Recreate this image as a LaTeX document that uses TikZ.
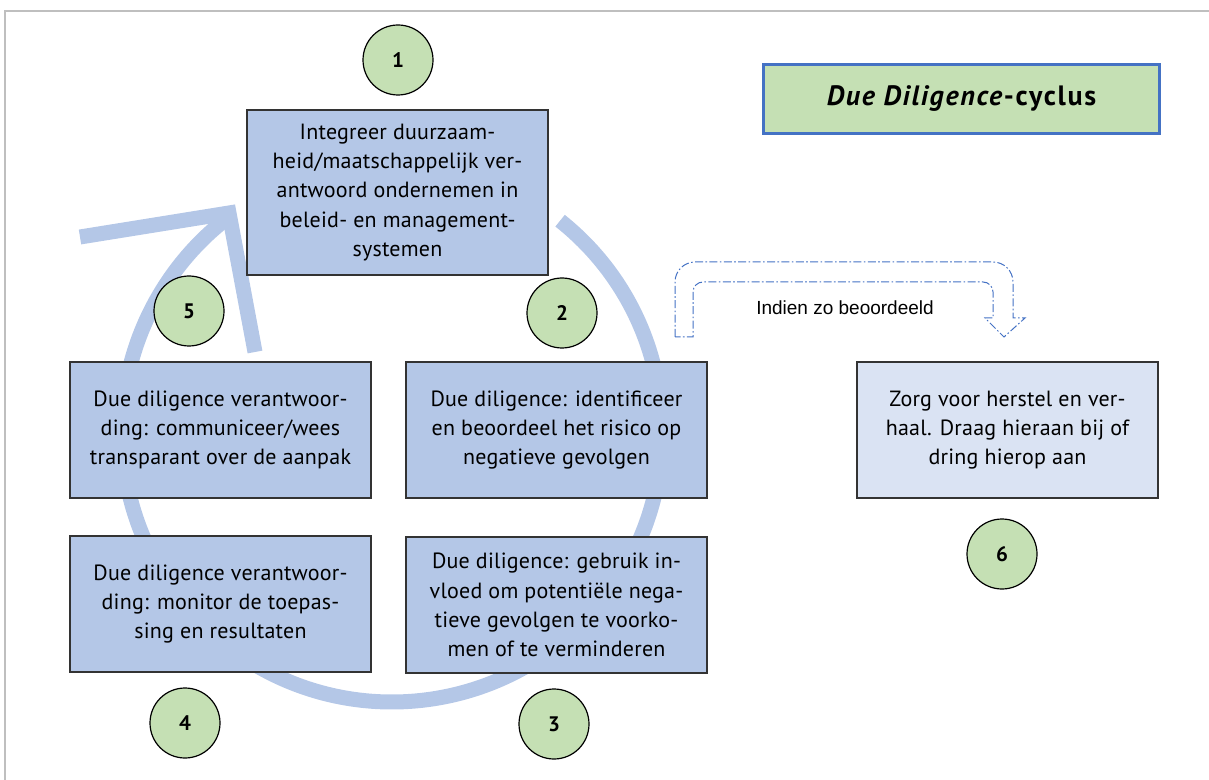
\documentclass[tikz,border=0pt]{standalone}
\usepackage{fontspec}
\setmainfont{PT Sans}
\newfontfamily\boxfont[LetterSpace=1]{PT Sans}
\newfontfamily\titfont[LetterSpace=6]{PT Sans}
\newfontfamily\arialfont{Liberation Sans}
\begin{document}
\begin{tikzpicture}[x=0.5pt,y=-0.5pt,
  box/.style={draw=black!80,line width=0.8pt,fill=b2,minimum width=150.5pt,minimum height=68pt,
    align=center,font=\boxfont\fontsize{11}{14.6}\selectfont,inner sep=2pt},
  nr/.style={circle,draw=black,line width=0.6pt,fill=g1,minimum size=35pt,inner sep=0pt,
    font=\fontsize{10.5}{12}\selectfont\bfseries},
  ring/.style={b2,line width=7.5pt},
  dashline/.style={draw=l1,line width=0.5pt,dash pattern=on 4pt off 1.2pt on 0.8pt off 1.2pt}]
\definecolor{b2}{RGB}{180,199,231}
\definecolor{b3}{RGB}{218,227,243}
\definecolor{g1}{RGB}{197,224,180}
\definecolor{l1}{RGB}{68,114,196}

\useasboundingbox (0,0) rectangle (1209,780);
\draw[black!25,line width=1pt] (5,780) -- (5,11) -- (1209,11);

% cycle arrow behind the boxes
\draw[ring] (392,432) ++(51.5:135pt) arc[start angle=51.5,end angle=-233.3,radius=135pt];
\draw[ring,miter limit=10] (80,237) -- (229,213) -- (255,352);

\node[box,minimum height=82.5pt] (b1) at (397.5,192.5) {Integreer duurzaam-\\heid/maatschappelijk ver-\\antwoord ondernemen in\\beleid- en management-\\systemen};
\node[box] (b5) at (220.5,430) {Due diligence verantwoor-\\ding: communiceer/wees\\transparant over de aanpak};
\node[box] (b2) at (556.5,430) {Due diligence: identificeer\\en beoordeel het risico op\\negatieve gevolgen};
\node[box] (b4) at (220.5,604) {Due diligence verantwoor-\\ding: monitor de toepas-\\sing en resultaten};
\node[box] (b3) at (556.5,605) {Due diligence: gebruik in-\\vloed om potentiële nega-\\tieve gevolgen te voorko-\\men of te verminderen};
\node[box,fill=b3] (b6) at (1007.5,430) {Zorg voor herstel en ver-\\haal. Draag hieraan bij of\\dring hierop aan};

\node[nr] (c1) at (398,60) {1};
\node[nr] (c2) at (562,313) {2};
\node[nr] (c3) at (554,724) {3};
\node[nr] (c4) at (185,723) {4};
\node[nr] (c5) at (189,311) {5};
\node[nr] (c6) at (1002,554) {6};

\node[draw=l1,line width=1.5pt,fill=g1,minimum width=198pt,minimum height=34.5pt,
  font=\titfont\fontsize{14}{16}\selectfont\bfseries] (tit) at (961.5,99) {\textit{Due Diligence}-cyclus};

% hollow u-turn arrow
\draw[dashline] (675,337) -- (675,282) arc[start angle=180,end angle=90,radius=10pt]
  -- (993,262) arc[start angle=90,end angle=0,radius=10pt]
  -- (1013,318) -- (1025,318) -- (1004,337) -- (985,318) -- (993,318)
  -- (993,292) arc[start angle=0,end angle=90,radius=5pt]
  -- (703,282) arc[start angle=90,end angle=180,radius=5pt]
  -- (693,337) -- cycle;
\node[font=\arialfont\fontsize{9.5}{11}\selectfont] (ind) at (845,308) {Indien zo beoordeeld};
\end{tikzpicture}
\end{document}
